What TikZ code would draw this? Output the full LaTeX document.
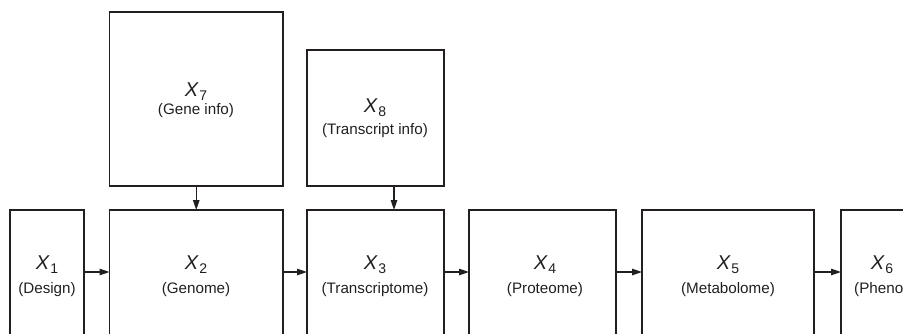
\documentclass[tikz,border=0pt]{standalone}
\usepackage{fontspec}
\setmainfont{Liberation Sans}
\usetikzlibrary{arrows.meta}
\definecolor{ink}{HTML}{231F20}
\newcommand{\xvar}[1]{\fontsize{20}{20}\selectfont\textit{X}\kern0.5pt\raisebox{-4pt}{\fontsize{14}{14}\selectfont #1}}
\tikzset{
  box/.style={draw=ink, line width=1.2pt, rectangle, inner sep=0pt, outer sep=0pt},
  xlab/.style={anchor=base, inner sep=0pt, text=ink},
  lab/.style={anchor=base, inner sep=0pt, text=ink, font=\fontsize{15.2}{16}\selectfont},
  arr/.style={draw=ink, line width=1.2pt, -{Triangle[length=10pt,width=6.5pt]}}
}
\begin{document}
\begin{tikzpicture}[x=1pt,y=-1pt]
\useasboundingbox (0,0) rectangle (903,333);
\clip (0,0) rectangle (903,333);

% chain of measured layers (boxes run past the lower edge)
\node[box, minimum width=74pt,    minimum height=150pt] (b1) at (47,285) {};
\node[box, minimum width=173.5pt, minimum height=150pt] (b2) at (196.25,285) {};
\node[box, minimum width=137pt,   minimum height=150pt] (b3) at (375.5,285) {};
\node[box, minimum width=147pt,   minimum height=150pt] (b4) at (542.5,285) {};
\node[box, minimum width=172pt,   minimum height=150pt] (b5) at (728,285) {};
\node[box, minimum width=80pt,    minimum height=150pt] (b6) at (881,285) {};

% annotation sources
\node[box, minimum width=173.5pt, minimum height=174pt] (b7) at (196.25,99) {};
\node[box, minimum width=137pt,   minimum height=136pt] (b8) at (375.5,118) {};

% labels
\node[xlab] (x1) at (47,269)  {\xvar{1}};
\node[lab]  (l1) at (47,293)  {(Design)};
\node[xlab] (x2) at (196,269) {\xvar{2}};
\node[lab]  (l2) at (196,293) {(Genome)};
\node[xlab] (x3) at (375,269) {\xvar{3}};
\node[lab]  (l3) at (375,293) {(Transcriptome)};
\node[xlab] (x4) at (545,269) {\xvar{4}};
\node[lab]  (l4) at (545,293) {(Proteome)};
\node[xlab] (x5) at (728,269) {\xvar{5}};
\node[lab]  (l5) at (728,293) {(Metabolome)};
\node[xlab] (x6) at (882,269) {\xvar{6}};
\node[lab, anchor=base west] (l6) at (854,293) {(Phenotype)};
\node[xlab] (x7) at (196,96)  {\xvar{7}};
\node[lab]  (l7) at (196,114) {(Gene info)};
\node[xlab] (x8) at (375,112) {\xvar{8}};
\node[lab]  (l8) at (375,134) {(Transcript info)};

% connectors
\coordinate (ay) at (0,272);
\coordinate (ax) at (394,0);
\draw[arr] (b1.east |- ay) -- (b2.west |- ay);
\draw[arr] (b2.east |- ay) -- (b3.west |- ay);
\draw[arr] (b3.east |- ay) -- (b4.west |- ay);
\draw[arr] (b4.east |- ay) -- (b5.west |- ay);
\draw[arr] (b5.east |- ay) -- (b6.west |- ay);
\draw[arr] (b7.south) -- (b2.north);
\draw[arr] (b8.south -| ax) -- (b3.north -| ax);
\end{tikzpicture}
\end{document}
